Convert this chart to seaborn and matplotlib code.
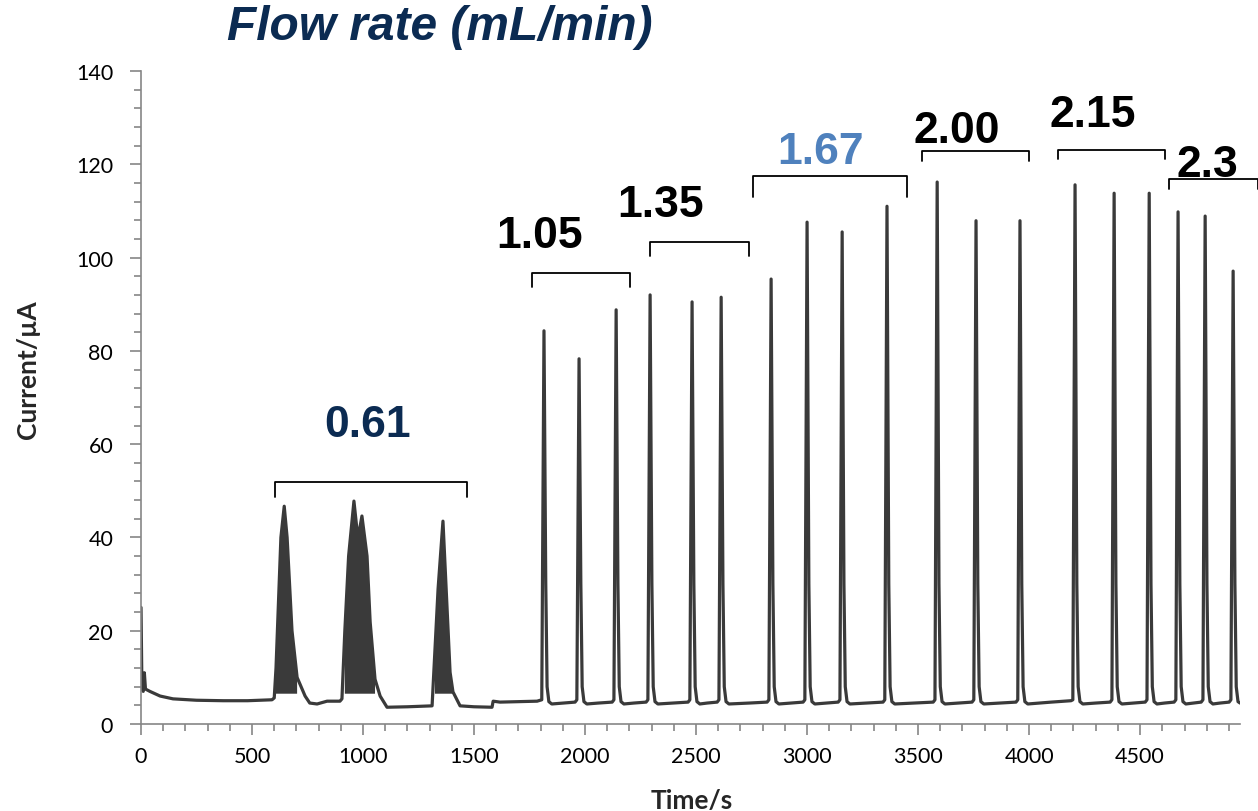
import numpy as np
import pandas as pd
import matplotlib.pyplot as plt
import seaborn as sns
import matplotlib.ticker as ticker

time_s = [
    0, 4, 10, 15, 20, 40, 86, 144, 250, 370, 480, 590,
    600, 608, 618, 630, 645, 658, 680, 703, 739, 760, 793, 838, 896,
    905, 918, 935, 959, 977, 995, 1018, 1032, 1054, 1077, 1108, 1200, 1302,
    1311, 1324, 1338, 1360, 1378, 1392, 1405, 1437, 1500, 1581, 1586, 1617, 1700, 1784,
    1805, 1815, 1823, 1829, 1837, 1850, 1900, 1955,
    1963, 1973, 1981, 1987, 1995, 2008, 2060, 2122,
    2130, 2140, 2148, 2154, 2162, 2175, 2220, 2275,
    2283, 2293, 2301, 2307, 2315, 2328, 2400, 2464,
    2472, 2482, 2490, 2496, 2504, 2517, 2550, 2595,
    2603, 2613, 2621, 2627, 2635, 2648, 2740, 2820,
    2828, 2838, 2846, 2852, 2860, 2873, 2930, 2982,
    2990, 3000, 3008, 3014, 3022, 3035, 3090, 3140,
    3148, 3158, 3166, 3172, 3180, 3193, 3270, 3342,
    3350, 3360, 3368, 3374, 3382, 3395, 3480, 3568,
    3576, 3586, 3594, 3600, 3608, 3621, 3680, 3743,
    3751, 3761, 3769, 3775, 3783, 3796, 3870, 3941,
    3949, 3959, 3967, 3973, 3981, 3994, 4100, 4189,
    4197, 4207, 4215, 4221, 4229, 4242, 4300, 4365,
    4373, 4383, 4391, 4397, 4405, 4418, 4470, 4523,
    4531, 4541, 4549, 4555, 4563, 4576, 4610, 4653,
    4661, 4671, 4679, 4685, 4693, 4706, 4740, 4775,
    4783, 4793, 4801, 4807, 4815, 4828, 4860, 4901,
    4909, 4919, 4927, 4933, 4941, 4950,
]
current_uA = [
    25, 8, 7, 11, 7.5, 7, 6.0, 5.4, 5.1, 5.0, 5.0, 5.2,
    5.6, 12, 25, 40, 46.7, 40, 20, 10, 6, 4.5, 4.3, 4.9, 4.9,
    5.4, 20, 36, 47.8, 39.7, 44.6, 36, 21.9, 9.6, 6.0, 3.6, 3.7, 3.9,
    3.9, 16, 29, 43.5, 25.3, 11.1, 6.9, 3.9, 3.7, 3.6, 4.9, 4.7, 4.8, 4.9,
    5.2, 84.3, 30, 8, 4.8, 4.3, 4.5, 4.7,
    5.2, 78.3, 30, 8, 4.8, 4.3, 4.5, 4.7,
    5.2, 88.8, 30, 8, 4.8, 4.3, 4.5, 4.7,
    5.2, 92.0, 30, 8, 4.8, 4.3, 4.5, 4.7,
    5.2, 90.5, 30, 8, 4.8, 4.3, 4.5, 4.7,
    5.2, 91.5, 30, 8, 4.8, 4.3, 4.5, 4.7,
    5.2, 95.4, 30, 8, 4.8, 4.3, 4.5, 4.7,
    5.2, 107.6, 30, 8, 4.8, 4.3, 4.5, 4.7,
    5.2, 105.5, 30, 8, 4.8, 4.3, 4.5, 4.7,
    5.2, 111.0, 30, 8, 4.8, 4.3, 4.5, 4.7,
    5.2, 116.2, 30, 8, 4.8, 4.3, 4.5, 4.7,
    5.2, 107.9, 30, 8, 4.8, 4.3, 4.5, 4.7,
    5.2, 107.9, 30, 8, 4.8, 4.3, 4.7, 5.0,
    5.2, 115.6, 30, 8, 4.8, 4.3, 4.5, 4.7,
    5.2, 113.8, 30, 8, 4.8, 4.3, 4.5, 4.7,
    5.2, 113.8, 30, 8, 4.8, 4.3, 4.5, 4.7,
    5.2, 109.8, 30, 8, 4.8, 4.3, 4.5, 4.7,
    5.2, 108.9, 30, 8, 4.8, 4.3, 4.5, 4.7,
    5.2, 97.1, 30, 8, 4.8, 4.5,
]

# --- flow-rate groups (label, bracket start/end, bracket top, hook bottom, label pos) ---
flow_labels = ['0.61', '1.05', '1.35', '1.67', '2.00', '2.15', '2.3']
bracket_start = [604, 1761, 2293, 2757, 3518, 4131, 4628]
bracket_end = [1468, 2203, 2739, 3450, 4000, 4613, 5031]
bracket_top = [51.9, 96.7, 103.3, 117.5, 122.9, 123.0, 116.9]
bracket_hook = [48.7, 93.7, 100.3, 113.0, 120.7, 121.1, 114.7]
label_x = [1020, 1797, 2342, 3061, 3676, 4288, 4804]
label_y = [61.8, 102.3, 108.9, 120.3, 124.8, 128.2, 117.5]
label_colors = ['#0B2B52', 'black', 'black', '#4F81BD', 'black', 'black', 'black']

df = pd.DataFrame({'Time/s': time_s, 'Current': current_uA})

sns.set_theme(style="white")
plt.rcParams['font.family'] = ['Lato', 'DejaVu Sans']

fig = plt.figure(figsize=(12.58, 8.12), dpi=100)
ax = fig.add_axes([0.1121, 0.1071, 0.8736, 0.8042])

line_col = '#3A3A3A'
sns.lineplot(data=df, x='Time/s', y='Current', ax=ax, color=line_col,
             linewidth=2.3, estimator=None, sort=False)

# noisy 0.61 peaks appear as solid dark blobs
broad = (df['Time/s'] >= 600) & (df['Time/s'] <= 1437)
ax.fill_between(df['Time/s'][broad], df['Current'][broad], 6.5,
                where=df['Current'][broad] > 6.5, color=line_col, lw=0)

# brackets + flow-rate labels
for lab, x0, x1, yt, yh, lx, ly, c in zip(flow_labels, bracket_start, bracket_end,
                                           bracket_top, bracket_hook, label_x,
                                           label_y, label_colors):
    ax.plot([x0, x0, x1, x1], [yh, yt, yt, yh], color='black', lw=1.3,
            clip_on=False, solid_joinstyle='round')
    ax.text(lx, ly, lab, ha='center', va='baseline', fontsize=32,
            fontweight='bold', color=c, family=['Liberation Sans', 'DejaVu Sans'],
            clip_on=False)

fig.text(0.35, 0.966, 'Flow rate (mL/min)', ha='center', va='center',
         fontsize=34.5, fontweight='bold', fontstyle='italic', color='#0B2B52',
         family=['Liberation Sans', 'DejaVu Sans'])

ax.set_xlim(0, 4950)
ax.set_ylim(0, 140)
ax.xaxis.set_major_locator(ticker.MultipleLocator(500))
ax.xaxis.set_minor_locator(ticker.MultipleLocator(100))
ax.yaxis.set_major_locator(ticker.MultipleLocator(20))
ax.yaxis.set_minor_locator(ticker.MultipleLocator(4))

for s in ['top', 'right']:
    ax.spines[s].set_visible(False)
for s in ['left', 'bottom']:
    ax.spines[s].set_color('#868686')
    ax.spines[s].set_linewidth(1.2)

ax.tick_params(which='both', direction='out', color='#868686', width=1.2,
               labelsize=15.5, labelcolor='black')
ax.tick_params(which='major', length=8)
ax.tick_params(which='minor', length=5)
ax.tick_params(axis='y', which='major', pad=12)
ax.tick_params(axis='x', which='major', pad=8)
ax.tick_params(which='both', bottom=True, left=True)

ax.set_xlabel('Time/s', fontsize=19, fontweight='bold')
ax.set_ylabel('Current/µA', fontsize=19, fontweight='bold')
ax.xaxis.set_label_coords(0.501, -0.098)
ax.yaxis.set_label_coords(-0.092, 0.545)

fig.savefig('out.png', dpi=100)
